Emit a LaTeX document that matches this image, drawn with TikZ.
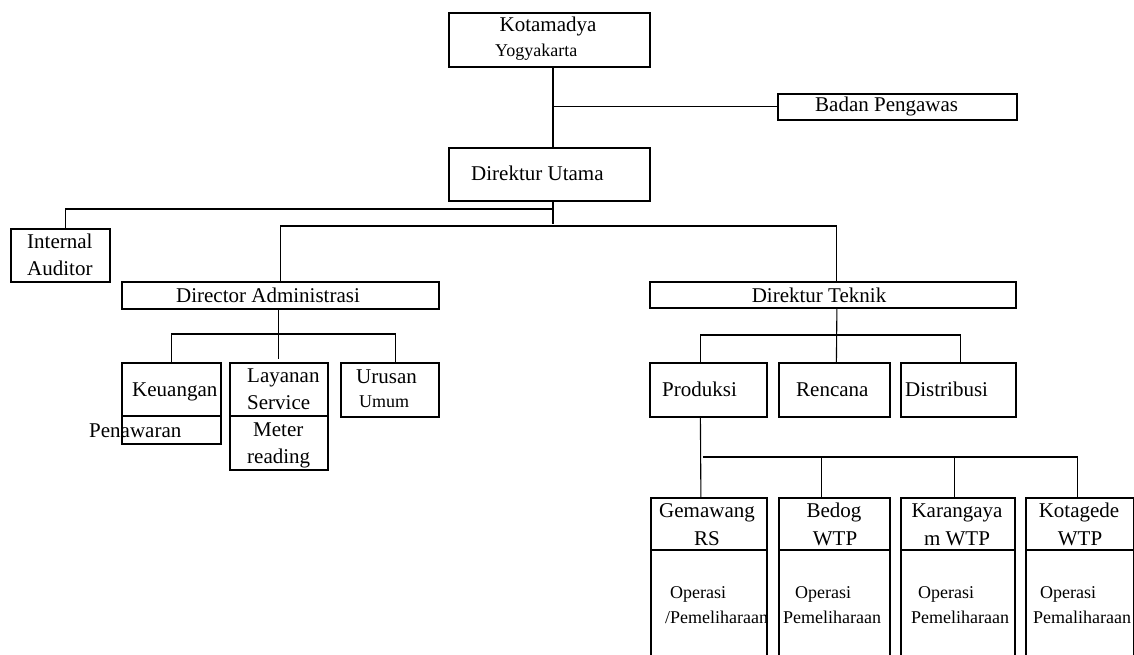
\documentclass[tikz,border=0pt]{standalone}
\usepackage{fontspec}
\setmainfont{Liberation Serif}
\begin{document}
\begin{tikzpicture}[x=1pt,y=-1pt,
  box/.style={draw, line width=1.8pt, inner sep=0pt, anchor=north west},
  wire/.style={line width=1.1pt},
  big/.style={font=\fontsize{21}{24}\selectfont, inner sep=0pt},
  small/.style={font=\fontsize{18}{21}\selectfont, inner sep=0pt}]
\useasboundingbox (0,0) rectangle (1134,655);
\clip (0,0) rectangle (1134,655);

% ---- boxes ----
\node[box, minimum width=201pt, minimum height=54pt] (kota) at (448,12) {};
\node[box, minimum width=239pt, minimum height=26pt] (badan) at (777,93) {};
\node[box, minimum width=201pt, minimum height=53pt] (utama) at (448,147) {};
\node[box, minimum width=99pt, minimum height=53pt] (ia) at (10,228) {};
\node[box, minimum width=317pt, minimum height=27pt] (da) at (121,281) {};
\node[box, minimum width=366pt, minimum height=26pt] (dt) at (649,281) {};

\node[box, minimum width=99pt, minimum height=53pt] (keu) at (121,362) {};
\node[box, minimum width=99pt, minimum height=28pt] (pen) at (121,415) {};
\node[box, minimum width=98pt, minimum height=53pt] (lay) at (229,362) {};
\node[box, minimum width=98pt, minimum height=54pt] (met) at (229,415) {};
\node[box, minimum width=98pt, minimum height=54pt] (uru) at (340,362) {};

\node[box, minimum width=117pt, minimum height=54pt] (prod) at (649,362) {};
\node[box, minimum width=111pt, minimum height=54pt] (ren) at (778,362) {};
\node[box, minimum width=115pt, minimum height=54pt] (dist) at (900,362) {};

\node[box, minimum width=116pt, minimum height=52pt] (gem) at (650,497) {};
\node[box, minimum width=111pt, minimum height=52pt] (bed) at (778,497) {};
\node[box, minimum width=114pt, minimum height=52pt] (kar) at (900,497) {};
\node[box, minimum width=108pt, minimum height=52pt] (kg) at (1025,497) {};
\node[box, minimum width=116pt, minimum height=115pt] (gemop) at (650,549) {};
\node[box, minimum width=111pt, minimum height=115pt] (bedop) at (778,549) {};
\node[box, minimum width=114pt, minimum height=115pt] (karop) at (900,549) {};
\node[box, minimum width=108pt, minimum height=115pt] (kgop) at (1025,549) {};

% ---- labels ----
\node[big, anchor=base] (t1) at (548,32) {Kotamadya};
\node[small, anchor=base west] (t2) at (495,57) {Yogyakarta};
\node[big, anchor=base west] (t3) at (815,112) {Badan Pengawas};
\node[big, anchor=base west] (t4) at (471,181) {Direktur Utama};
\node[big, anchor=base west] (t5) at (27,248) {Internal};
\node[big, anchor=base west] (t6) at (27,275) {Auditor};
\node[big, anchor=base] (t7) at (268,302) {Director Administrasi};
\node[big, anchor=base west] (t8) at (132,396) {Keuangan};
\node[big, anchor=base west] (t9) at (89,437) {Penawaran};
\node[big, anchor=base west] (t10) at (247,382) {Layanan};
\node[big, anchor=base west] (t11) at (247,409) {Service};
\node[big, anchor=base west] (t12) at (253,436) {Meter};
\node[big, anchor=base west] (t13) at (247,463) {reading};
\node[big, anchor=base west] (t14) at (356,383) {Urusan};
\node[small, anchor=base west] (t15) at (359,407) {Umum};
\node[big, anchor=base] (t16) at (819,302) {Direktur Teknik};
\node[big, anchor=base west] (t17) at (662,396) {Produksi};
\node[big, anchor=base west] (t18) at (796,396) {Rencana};
\node[big, anchor=base west] (t19) at (905,396) {Distribusi};
\node[big, anchor=base] (t20) at (707,517) {Gemawang};
\node[big, anchor=base] (t21) at (707,545) {RS};
\node[big, anchor=base] (t22) at (834,517) {Bedog};
\node[big, anchor=base] (t23) at (835,545) {WTP};
\node[big, anchor=base] (t24) at (957,517) {Karangaya};
\node[big, anchor=base] (t25) at (957,545) {m WTP};
\node[big, anchor=base] (t26) at (1079,517) {Kotagede};
\node[big, anchor=base] (t27) at (1080,545) {WTP};
\node[small, anchor=base west] (t28) at (670,598) {Operasi};
\node[small, anchor=base west] (t29) at (665,623) {/Pemeliharaan};
\node[small, anchor=base west] (t30) at (795,598) {Operasi};
\node[small, anchor=base west] (t31) at (783,623) {Pemeliharaan};
\node[small, anchor=base west] (t32) at (918,598) {Operasi};
\node[small, anchor=base west] (t33) at (911,623) {Pemeliharaan};
\node[small, anchor=base west] (t34) at (1040,598) {Operasi};
\node[small, anchor=base west] (t35) at (1033,623) {Pemaliharaan};

% ---- connectors ----
\coordinate (trunk) at (553,0);
\coordinate (busA) at (0,209);
\coordinate (busB) at (0,226);
\coordinate (busC) at (0,334);
\coordinate (busD) at (0,335);
\coordinate (busE) at (0,457);

\draw[wire] (trunk |- kota.south) -- (trunk |- utama.north);
\draw[wire] (trunk |- badan.west) -- (badan.west);
\draw[wire] (trunk |- utama.south) -- ([yshift=2pt]trunk |- busB);
\draw[wire] (trunk |- busA) -| ([xshift=5pt]ia.north);
\draw[wire] (da.north) |- ([xshift=4pt]dt.north |- busB) -- ([xshift=4pt]dt.north);

% administration branch
\draw[wire] ([xshift=-2pt]da.south) -- ++(0,49);
\draw[wire] (keu.north) |- ([xshift=6pt]uru.north |- busC) -- ([xshift=6pt]uru.north);

% technical branch
\draw[wire] ([xshift=4pt]dt.south) -- ([xshift=2pt]ren.north);
\draw[wire] ([xshift=-8pt]prod.north) |- ([xshift=2pt]dist.north |- busD) -- ([xshift=2pt]dist.north);

% production units
\draw[wire] ([xshift=-8pt]prod.south) -- ([xshift=-8pt]gem.north);
\draw[wire] ([xshift=-6pt]gem.north |- busE) -| ([xshift=-2pt]kg.north);
\draw[wire] ([xshift=-13pt]bed.north |- busE) -- ([xshift=-13pt]bed.north);
\draw[wire] ([xshift=-3pt]kar.north |- busE) -- ([xshift=-3pt]kar.north);
\end{tikzpicture}
\end{document}
